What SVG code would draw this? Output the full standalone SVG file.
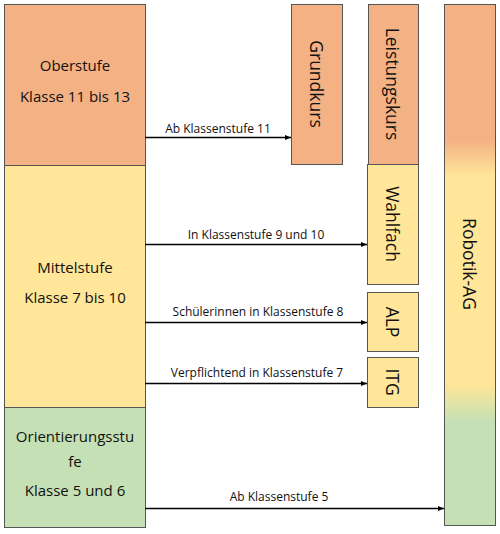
<svg xmlns="http://www.w3.org/2000/svg" width="500" height="534" viewBox="0 0 500 534">
<style>
.box{stroke:#555;stroke-width:1}
.or{fill:#F4B183}.ye{fill:#FFE699}.gr{fill:#C5E0B4}
.t{font-family:"Open Sans",sans-serif;font-size:15px;fill:#111;text-anchor:middle}
.v{font-family:"Open Sans",sans-serif;font-size:17.5px;fill:#111;text-anchor:middle;dominant-baseline:central}
.l{font-family:"Open Sans",sans-serif;font-size:12px;fill:#111;text-anchor:middle}
.c{stroke:#000;stroke-width:1.5;fill:none;marker-end:url(#ah)}
</style>
<defs>
<marker id="ah" markerWidth="6" markerHeight="6" refX="6" refY="3" orient="auto" markerUnits="userSpaceOnUse">
<path d="M0,0.5 L6,3 L0,5.5 Z" fill="#000"/>
</marker>
<linearGradient id="rg" x1="0" y1="0" x2="0" y2="1">
<stop offset="0" stop-color="#F4B183"/>
<stop offset="0.26" stop-color="#F4B183"/>
<stop offset="0.33" stop-color="#FFE699"/>
<stop offset="0.73" stop-color="#FFE699"/>
<stop offset="0.80" stop-color="#C5E0B4"/>
<stop offset="1" stop-color="#C5E0B4"/>
</linearGradient>
</defs>
<g id="oberstufe">
<rect class="box or" x="4.5" y="4.5" width="141" height="161"/>
<text class="t" x="75" y="71">Oberstufe</text>
<text class="t" x="75" y="102">Klasse 11 bis 13</text>
</g>
<g id="mittelstufe">
<rect class="box ye" x="4.5" y="165.5" width="141" height="242"/>
<text class="t" x="75" y="273">Mittelstufe</text>
<text class="t" x="75" y="303">Klasse 7 bis 10</text>
</g>
<g id="orientierungsstufe">
<rect class="box gr" x="4.5" y="407.5" width="141" height="120"/>
<text class="t" x="75" y="442">Orientierungsstu</text>
<text class="t" x="75" y="467">fe</text>
<text class="t" x="75" y="496">Klasse 5 und 6</text>
</g>
<g id="grundkurs">
<rect class="box or" x="291.5" y="4.5" width="51" height="160"/>
<text class="v" transform="translate(317,84) rotate(90)">Grundkurs</text>
</g>
<g id="leistungskurs">
<rect class="box or" x="368.5" y="4.5" width="50" height="160"/>
<text class="v" transform="translate(393,84) rotate(90)">Leistungskurs</text>
</g>
<g id="wahlfach">
<rect class="box ye" x="367.5" y="164.5" width="51" height="120"/>
<text class="v" transform="translate(393,224) rotate(90)">Wahlfach</text>
</g>
<g id="alp">
<rect class="box ye" x="367.5" y="292.5" width="51" height="59"/>
<text class="v" transform="translate(393,322) rotate(90)">ALP</text>
</g>
<g id="itg">
<rect class="box ye" x="367.5" y="357.5" width="51" height="50"/>
<text class="v" transform="translate(393,382) rotate(90)">ITG</text>
</g>
<g id="robotik">
<rect class="box" fill="url(#rg)" x="444.5" y="4.5" width="51" height="521"/>
<text class="v" transform="translate(470,264) rotate(90)">Robotik-AG</text>
</g>
<g id="connectors">
<path class="c" d="M145,137.5 H291"/>
<text class="l" x="218" y="133">Ab Klassenstufe 11</text>
<path class="c" d="M145,244.5 H367"/>
<text class="l" x="256" y="239">In Klassenstufe 9 und 10</text>
<path class="c" d="M145,322.5 H367"/>
<text class="l" x="258" y="316">Schülerinnen in Klassenstufe 8</text>
<path class="c" d="M145,383.5 H367"/>
<text class="l" x="257" y="377">Verpflichtend in Klassenstufe 7</text>
<path class="c" d="M145,508.5 H444"/>
<text class="l" x="279" y="501">Ab Klassenstufe 5</text>
</g>
</svg>
